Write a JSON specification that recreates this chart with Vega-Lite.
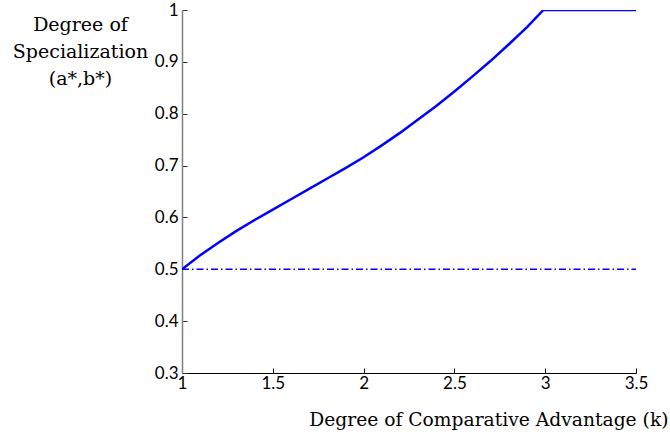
{
  "$schema": "https://vega.github.io/schema/vega-lite/v6.json",
  "width": 454,
  "height": 363,
  "autosize": {"type": "none"},
  "padding": {"left": 182, "top": 10, "right": 34, "bottom": 65},
  "background": "white",
  "config": {"view": {"stroke": null}},
  "layer": [
    {
      "data": {"values": [
        {"k": 1.0, "v": 0.5},
        {"k": 1.1, "v": 0.527},
        {"k": 1.2, "v": 0.551},
        {"k": 1.3, "v": 0.574},
        {"k": 1.4, "v": 0.595},
        {"k": 1.5, "v": 0.615},
        {"k": 1.6, "v": 0.635},
        {"k": 1.7, "v": 0.655},
        {"k": 1.8, "v": 0.675},
        {"k": 1.9, "v": 0.695},
        {"k": 2.0, "v": 0.716},
        {"k": 2.1, "v": 0.739},
        {"k": 2.2, "v": 0.763},
        {"k": 2.3, "v": 0.789},
        {"k": 2.4, "v": 0.815},
        {"k": 2.5, "v": 0.843},
        {"k": 2.6, "v": 0.872},
        {"k": 2.7, "v": 0.902},
        {"k": 2.8, "v": 0.934},
        {"k": 2.9, "v": 0.967},
        {"k": 2.99, "v": 1.0},
        {"k": 3.5, "v": 1.0}
      ]},
      "mark": {"type": "line", "color": "#0000ff", "strokeWidth": 2.5, "clip": true},
      "encoding": {
        "x": {
          "field": "k", "type": "quantitative",
          "scale": {"domain": [1, 3.5], "nice": false, "zero": false},
          "axis": {
            "values": [1, 1.5, 2, 2.5, 3, 3.5],
            "format": "~g",
            "grid": false,
            "title": "Degree of Comparative Advantage (k)",
            "titleFont": "DejaVu Serif",
            "titleFontSize": 18.7,
            "titleFontWeight": "normal",
            "titleColor": "#000",
            "titleAlign": "right",
            "titleAnchor": null,
            "titleBaseline": "alphabetic",
            "titleX": 486,
            "titleY": 52,
            "labelFont": "Lato",
            "labelFontSize": 17,
            "labelColor": "#000",
            "labelPadding": 7,
            "labelFlush": false,
            "tickSize": -5,
            "tickColor": "#000",
            "domainColor": "#000",
            "labelBaseline": "top"
          }
        },
        "y": {
          "field": "v", "type": "quantitative",
          "scale": {"domain": [0.3, 1], "nice": false, "zero": false},
          "axis": {
            "values": [0.3, 0.4, 0.5, 0.6, 0.7, 0.8, 0.9, 1],
            "format": "~g",
            "grid": false,
            "title": ["Degree of", "Specialization", "(a*,b*)"],
            "titleFont": "DejaVu Serif",
            "titleFontSize": 19,
            "titleFontWeight": "normal",
            "titleColor": "#000",
            "titleAngle": 0,
            "titleAlign": "center",
            "titleAnchor": null,
            "titleBaseline": "alphabetic",
            "titleLineHeight": 27,
            "titleX": -102,
            "titleY": 20,
            "labelFont": "Lato",
            "labelFontSize": 17,
            "labelColor": "#000",
            "labelPadding": 9,
            "labelFlush": false,
            "tickSize": -5,
            "tickColor": "#333",
            "domainColor": "#808080",
            "domainWidth": 1.5
          }
        }
      }
    },
    {
      "data": {"values": [
        {"k": 1.0, "v": 0.5},
        {"k": 3.5, "v": 0.5}
      ]},
      "mark": {"type": "line", "color": "#0000ff", "strokeWidth": 1.5, "strokeDash": [7, 3, 1.5, 3]},
      "encoding": {
        "x": {"field": "k", "type": "quantitative"},
        "y": {"field": "v", "type": "quantitative"}
      }
    }
  ]
}
